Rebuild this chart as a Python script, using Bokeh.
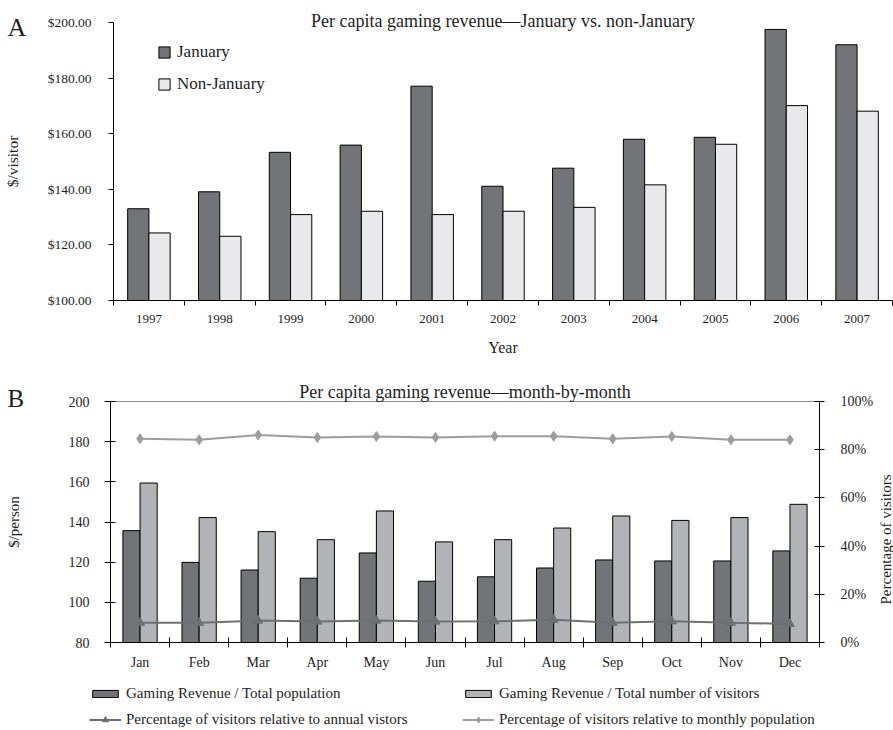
import math

from bokeh.embed import file_html
from bokeh.models import (ColumnDataSource, FixedTicker, Label, Legend, LegendItem,
                          LinearAxis, NumeralTickFormatter, Range1d, SingleIntervalTicker)
from bokeh.plotting import figure
from bokeh.resources import INLINE
from bokeh.transform import dodge

# ---- Panel A: per capita gaming revenue, January vs. non-January ($/visitor)
years = ["1997", "1998", "1999", "2000", "2001", "2002", "2003", "2004", "2005", "2006", "2007"]
january = [133.0, 139.1, 153.3, 155.9, 177.1, 141.1, 147.6, 158.0, 158.7, 197.5, 192.0]
non_january = [124.3, 123.1, 130.9, 132.1, 130.9, 132.1, 133.5, 141.6, 156.2, 170.1, 168.1]

# ---- Panel B: month-by-month ($/person and % of visitors)
months = ["Jan", "Feb", "Mar", "Apr", "May", "Jun", "Jul", "Aug", "Sep", "Oct", "Nov", "Dec"]
rev_per_population = [135.7, 119.9, 116.1, 112.0, 124.6, 110.5, 112.7, 117.1, 121.1, 120.6, 120.6, 125.6]
rev_per_visitor = [159.4, 142.2, 135.2, 131.2, 145.5, 130.1, 131.2, 137.0, 143.0, 140.8, 142.2, 148.8]
pct_annual_visitors = [8.2, 8.2, 9.1, 8.7, 9.1, 8.7, 8.8, 9.4, 8.2, 8.8, 8.2, 7.7]
pct_monthly_population = [84.5, 84.1, 86.1, 85.1, 85.5, 85.1, 85.6, 85.6, 84.5, 85.5, 84.1, 84.1]

FONT = "Liberation Serif"
TEXT = "#1e1e1e"
DARK = "#737478"
PALE = "#e9e9eb"
MID = "#b2b3b7"
LINE_LIGHT = "#9c9da0"
LINE_DARK = "#6e6f72"
W = 893


def style_axis(ax, size):
    ax.axis_line_color = "black"
    ax.axis_line_width = 1
    ax.major_tick_line_color = "black"
    ax.minor_tick_line_color = None
    ax.major_label_text_font = FONT
    ax.major_label_text_font_size = size
    ax.major_label_text_color = TEXT
    ax.axis_label_text_font = FONT
    ax.axis_label_text_font_style = "normal"
    ax.axis_label_text_color = TEXT


def full_canvas_ranges(height, box, x_lo, x_hi, y_lo, y_hi):
    """Extend the data ranges so the plotting frame covers the whole canvas while
    the [x_lo, x_hi] x [y_lo, y_hi] block sits in the pixel box (left, top, right, bottom)."""
    left, top_px, right, bottom = box
    kx = (right - left) / (x_hi - x_lo)
    ky = (bottom - top_px) / (y_hi - y_lo)
    xr = (x_lo - left / kx, x_hi + (W - right) / kx)
    yr = (y_lo - (height - bottom) / ky, y_hi + top_px / ky)
    return xr, yr


def text_label(x, y, text, size, **kw):
    return Label(x=x, y=y, x_units="screen", y_units="screen", text=text,
                 text_font=FONT, text_font_size=size, text_color=TEXT, **kw)


def new_figure(height, xr, yr):
    p = figure(width=W, height=height, x_range=Range1d(*xr), y_range=Range1d(*yr),
               output_backend="svg", toolbar_location=None,
               min_border_left=0, min_border_right=0, min_border_top=0, min_border_bottom=0)
    p.outline_line_color = None
    p.xgrid.visible = False
    p.ygrid.visible = False
    return p


# ------------------------------------------------------------------ panel A
n_a = len(years)
H_A = 362
xr_a, yr_a = full_canvas_ranges(H_A, (113, 22, 892, 300), -0.5, n_a - 0.5, 100, 200)
top = new_figure(H_A, xr_a, yr_a)

src_a = ColumnDataSource(dict(idx=list(range(n_a)), jan=january, non=non_january))
r_jan = top.vbar(x=dodge("idx", -0.15), top="jan", bottom=100, width=0.3, source=src_a,
                 fill_color=DARK, line_color="black", line_width=1)
r_non = top.vbar(x=dodge("idx", 0.15), top="non", bottom=100, width=0.3, source=src_a,
                 fill_color=PALE, line_color="black", line_width=1)

xa = top.xaxis[0]
style_axis(xa, "13px")
xa.fixed_location = 100
xa.bounds = (-0.5, n_a - 0.5)
xa.ticker = FixedTicker(ticks=list(range(n_a)),
                        minor_ticks=[i - 0.5 for i in range(n_a + 1)])
xa.major_label_overrides = {i: y for i, y in enumerate(years)}
xa.major_tick_line_color = None
xa.major_tick_in = 0
xa.major_tick_out = 5
xa.minor_tick_line_color = "black"
xa.minor_tick_in = 0
xa.minor_tick_out = 5
xa.major_label_standoff = 9
xa.axis_label = "Year"
xa.axis_label_text_font_size = "16px"
xa.axis_label_standoff = 13

ya = top.yaxis[0]
style_axis(ya, "13.5px")
ya.fixed_location = -0.5
ya.bounds = (100, 200)
ya.ticker = SingleIntervalTicker(interval=20, num_minor_ticks=0)
ya.formatter = NumeralTickFormatter(format="$0.00")
ya.major_tick_in = 0
ya.major_tick_out = 5
ya.major_label_standoff = 17
ya.axis_label = "$/visitor"
ya.axis_label_text_font_size = "15.5px"
ya.axis_label_standoff = 24

leg_a = Legend(items=[LegendItem(label="January", renderers=[r_jan]),
                      LegendItem(label="Non-January", renderers=[r_non])],
               location=(157, H_A - 94), padding=0, margin=0, spacing=12,
               glyph_width=14, glyph_height=14, label_height=20, label_standoff=6,
               label_text_font=FONT, label_text_font_size="17px", label_text_color=TEXT,
               border_line_color=None, background_fill_alpha=0)
top.add_layout(leg_a, "center")

top.add_layout(text_label(502.5, H_A - 20, "Per capita gaming revenue\u2014January vs. non-January",
                          "18px", text_align="center", text_baseline="alphabetic"))
top.add_layout(text_label(7, H_A - 27, "A", "26px",
                          text_align="left", text_baseline="alphabetic"))

# ------------------------------------------------------------------ panel B
n_b = len(months)
H_B = 368
xr_b, yr_b = full_canvas_ranges(H_B, (110, 39, 819, 280), -0.5, n_b - 0.5, 80, 200)
bot = new_figure(H_B, xr_b, yr_b)
# right-hand percentage scale: 0 % at the 80 line, 100 % at the 200 line
bot.extra_y_ranges = {"pct": Range1d((yr_b[0] - 80) / 120, (yr_b[1] - 80) / 120)}

src_b = ColumnDataSource(dict(
    idx=list(range(n_b)),
    pop=rev_per_population,
    vis=rev_per_visitor,
    ann=[v / 100 for v in pct_annual_visitors],
    mon=[v / 100 for v in pct_monthly_population],
))
r_pop = bot.vbar(x=dodge("idx", -0.145), top="pop", bottom=80, width=0.29, source=src_b,
                 fill_color=DARK, line_color="black", line_width=1)
r_vis = bot.vbar(x=dodge("idx", 0.145), top="vis", bottom=80, width=0.29, source=src_b,
                 fill_color=MID, line_color="black", line_width=1)

l_ann = bot.line(x="idx", y="ann", source=src_b, y_range_name="pct",
                 line_color=LINE_DARK, line_width=2)
m_ann = bot.scatter(x="idx", y="ann", source=src_b, y_range_name="pct", marker="triangle",
                    size=9, fill_color=LINE_DARK, line_color=LINE_DARK)
l_mon = bot.line(x="idx", y="mon", source=src_b, y_range_name="pct",
                 line_color=LINE_LIGHT, line_width=2)
m_mon = bot.scatter(x="idx", y="mon", source=src_b, y_range_name="pct", marker="diamond",
                    size=10, fill_color=LINE_LIGHT, line_color=LINE_LIGHT)

xb = bot.xaxis[0]
style_axis(xb, "14px")
xb.fixed_location = 80
xb.bounds = (-0.5, n_b - 0.5)
xb.ticker = FixedTicker(ticks=list(range(n_b)),
                        minor_ticks=[i - 0.5 for i in range(n_b + 1)])
xb.major_label_overrides = {i: m for i, m in enumerate(months)}
xb.major_tick_line_color = None
xb.major_tick_in = 0
xb.major_tick_out = 5
xb.minor_tick_line_color = "black"
xb.minor_tick_in = 5
xb.minor_tick_out = 5
xb.major_label_standoff = 7

# thin grey rule closing the top of the plotting area
xt = LinearAxis(fixed_location=200, bounds=(-0.5, n_b - 0.5), ticker=FixedTicker(ticks=[]),
                axis_line_color="#8c8c8c", axis_line_width=1,
                major_tick_line_color=None, minor_tick_line_color=None)
bot.add_layout(xt, "above")

yb = bot.yaxis[0]
style_axis(yb, "14px")
yb.fixed_location = -0.5
yb.bounds = (80, 200)
yb.ticker = SingleIntervalTicker(interval=20, num_minor_ticks=0)
yb.major_tick_in = 5
yb.major_tick_out = 6
yb.major_label_standoff = 15
yb.axis_label = "$/person"
yb.axis_label_text_font_size = "15px"
yb.axis_label_standoff = 44

yr = LinearAxis(y_range_name="pct", fixed_location=n_b - 0.5, bounds=(0, 1),
                ticker=SingleIntervalTicker(interval=0.2, num_minor_ticks=0),
                formatter=NumeralTickFormatter(format="0%"))
style_axis(yr, "14px")
yr.major_tick_in = 5
yr.major_tick_out = 5
yr.major_label_standoff = 16
bot.add_layout(yr, "right")

bot.add_layout(text_label(885, H_B - 177, "Percentage of visitors", "15px",
                          angle=math.pi / 2, text_align="center", text_baseline="middle"))
bot.add_layout(text_label(464.5, H_B - 29, "Per capita gaming revenue\u2014month-by-month",
                          "18px", text_align="center", text_baseline="alphabetic"))
bot.add_layout(text_label(7, H_B - 36, "B", "25px",
                          text_align="left", text_baseline="alphabetic"))

legend_style = dict(padding=0, margin=0, glyph_width=32, label_height=20, label_standoff=5,
                    label_text_font=FONT, label_text_font_size="15px", label_text_color=TEXT,
                    border_line_color=None, background_fill_alpha=0)
bot.add_layout(Legend(items=[LegendItem(label="Gaming Revenue / Total population",
                                        renderers=[r_pop])],
                      location=(89, H_B - 341), glyph_height=9, **legend_style), "center")
bot.add_layout(Legend(items=[LegendItem(label="Gaming Revenue / Total number of visitors",
                                        renderers=[r_vis])],
                      location=(462, H_B - 341), glyph_height=9, **legend_style), "center")
bot.add_layout(Legend(items=[LegendItem(label="Percentage of visitors relative to annual vistors",
                                        renderers=[l_ann, m_ann])],
                      location=(89, H_B - 367), glyph_height=15, **legend_style), "center")
bot.add_layout(Legend(items=[LegendItem(label="Percentage of visitors relative to monthly population",
                                        renderers=[l_mon, m_mon])],
                      location=(462, H_B - 367), glyph_height=15, **legend_style), "center")

open("out.html", "w").write(file_html([top, bot], INLINE))
